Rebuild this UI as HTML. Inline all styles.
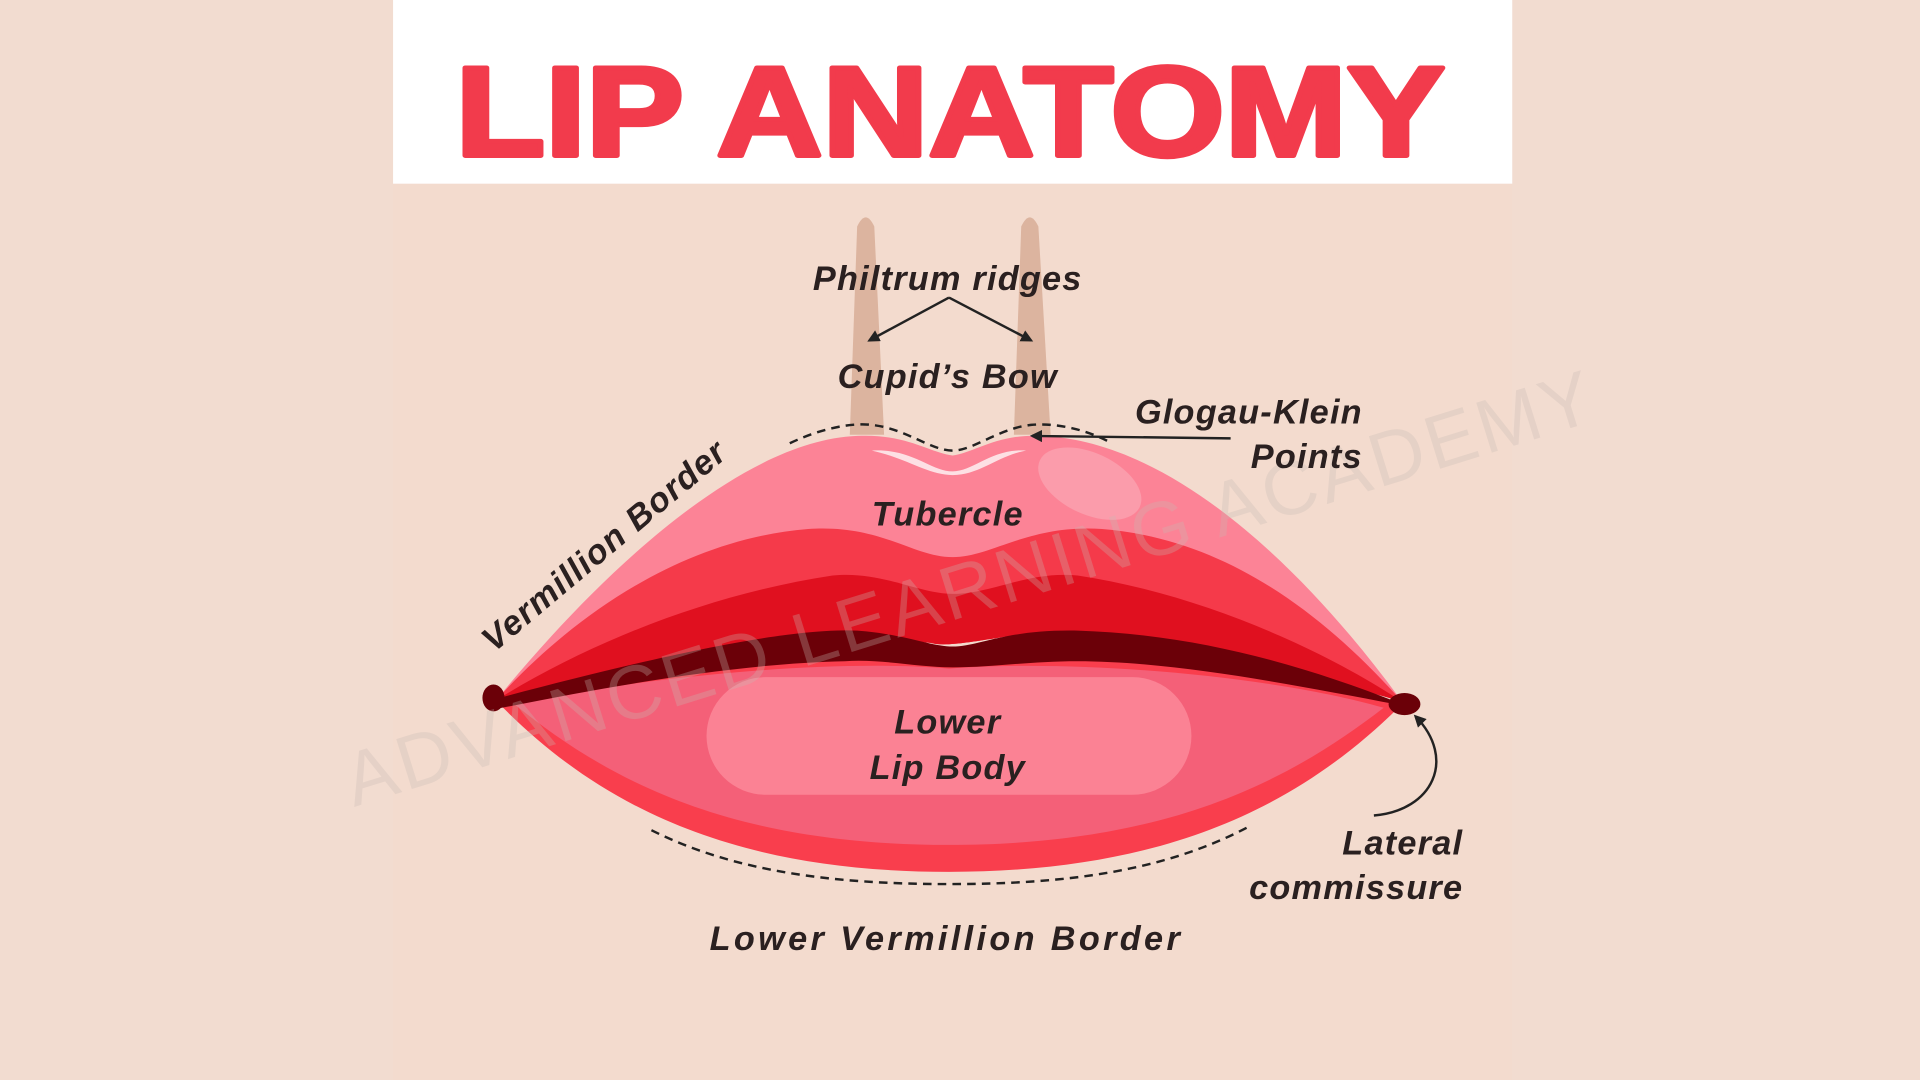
<!DOCTYPE html>
<html><head><meta charset="utf-8"><style>
html,body{margin:0;padding:0;width:1920px;height:1080px;overflow:hidden;background:#f2dcd0}
svg{display:block}
</style></head><body>
<svg width="1920" height="1080" viewBox="0 0 1568 882" xmlns="http://www.w3.org/2000/svg">
<rect width="1568" height="882" fill="#f2dcd0"/>
<rect x="321" y="150" width="914" height="732" fill="#f3dbce"/>
<rect x="321" y="0" width="914" height="150" fill="#ffffff"/>
<text x="776" y="127" text-anchor="middle" font-family="Liberation Sans, sans-serif" font-weight="bold" font-size="104" fill="#f23b4c" stroke="#f23b4c" stroke-width="4" stroke-linejoin="round" textLength="808" lengthAdjust="spacingAndGlyphs">LIP ANATOMY</text>

<!-- philtrum ridges -->
<path d="M700,185 Q707,170 714,185 L722,355 L694,355 Z" fill="#dcb49f"/>
<path d="M834,185 Q841,170 848,185 L858,355 L828,355 Z" fill="#dcb49f"/>

<!-- lower lip -->
<path d="M405,572 C520,545 680,530 775,540 C880,530 1050,545 1145,575 C1060,660 950,712 775,712 C600,712 490,660 405,572 Z" fill="#f93e4d"/>
<path d="M420,575 C530,552 680,538 775,546 C880,538 1040,552 1130,578 C1050,640 950,690 775,690 C600,690 500,640 420,575 Z" fill="#f46078"/>
<rect x="577" y="553" width="396" height="96" rx="48" fill="#fb8294"/>

<!-- upper lip -->
<path d="M405,572 C480,480 600,360 700,356 C740,354 760,370 778,372 C795,370 815,354 850,356 C960,360 1070,470 1145,573 C1050,545 900,515 820,520 C790,525 770,528 760,525 C680,515 520,540 405,572 Z" fill="#fc8396"/>
<path d="M405,572 C470,500 560,440 660,432 C720,428 745,455 778,455 C810,455 840,428 900,432 C1000,440 1080,500 1145,573 C1050,545 900,515 820,520 C790,525 770,528 760,525 C680,515 520,540 405,572 Z" fill="#f53a4a"/>
<path d="M405,572 C480,525 580,485 680,470 C720,466 750,485 778,485 C810,485 840,466 880,470 C980,485 1080,530 1145,573 C1050,545 900,515 820,520 C790,525 770,528 760,525 C680,515 520,540 405,572 Z" fill="#e0101f"/>
<path d="M400,572 C520,540 640,512 700,515 C740,518 760,528 778,528 C800,528 820,514 880,515 C980,518 1070,545 1150,577 C1060,560 960,540 880,540 C840,540 810,545 778,545 C750,545 720,538 690,540 C600,542 500,560 400,580 Z" fill="#6b0008"/>
<path d="M712,368 C745,366 760,385 778,385 C795,385 810,366 838,368 C815,372 800,388 778,388 C758,388 740,374 712,368 Z" fill="#fde0e4"/>
<ellipse cx="890" cy="395" rx="45" ry="25" transform="rotate(25 890 395)" fill="#fb9cab"/>
<ellipse cx="403" cy="570" rx="9" ry="11" fill="#6b0008"/>
<ellipse cx="1147" cy="575" rx="13" ry="9" fill="#6b0008"/>

<!-- watermark -->
<text x="800" y="500" text-anchor="middle" transform="rotate(-17.3 800 500)" font-family="Liberation Sans, sans-serif" font-size="62" fill="#c8b8b2" fill-opacity="0.3" letter-spacing="6" textLength="1070">ADVANCED LEARNING ACADEMY</text>

<!-- dashed lines -->
<path d="M645,362 C670,350 695,345 712,347 C740,350 760,368 778,368 C795,368 815,350 842,347 C865,345 890,352 908,362" fill="none" stroke="#222" stroke-width="2" stroke-dasharray="7,5"/>
<path d="M532,678 C600,712 680,722 775,722 C870,722 950,712 1020,675" fill="none" stroke="#222" stroke-width="2" stroke-dasharray="7,5"/>

<!-- arrows -->
<defs><marker id="ah" markerWidth="10" markerHeight="10" refX="8" refY="5" orient="auto" markerUnits="userSpaceOnUse"><path d="M0,0 L10,5 L0,10 Z" fill="#222"/></marker></defs>
<path d="M775,243 L710,278" stroke="#222" stroke-width="2" fill="none" marker-end="url(#ah)"/>
<path d="M775,243 L842,278" stroke="#222" stroke-width="2" fill="none" marker-end="url(#ah)"/>
<path d="M1005,358 L843,356" stroke="#222" stroke-width="2" fill="none" marker-end="url(#ah)"/>
<path d="M1122,666 C1170,662 1190,620 1156,585" stroke="#222" stroke-width="2" fill="none" marker-end="url(#ah)"/>

<!-- labels -->
<g font-family="Liberation Sans, sans-serif" font-weight="bold" font-style="italic" font-size="28" fill="#2a2020" letter-spacing="1">
<text x="774" y="237" text-anchor="middle">Philtrum ridges</text>
<text x="774" y="317" text-anchor="middle">Cupid’s Bow</text>
<text x="1113" y="346" text-anchor="end">Glogau-Klein</text>
<text x="1113" y="382" text-anchor="end">Points</text>
<text x="774" y="429" text-anchor="middle">Tubercle</text>
<text x="774" y="599" text-anchor="middle">Lower</text>
<text x="774" y="636" text-anchor="middle">Lip Body</text>
<text x="1195" y="698" text-anchor="end">Lateral</text>
<text x="1195" y="734" text-anchor="end">commissure</text>
<text x="772" y="776" text-anchor="middle" textLength="385">Lower Vermillion Border</text>
<text x="493" y="455" text-anchor="middle" transform="rotate(-40 493 445)">Vermillion Border</text>
</g>
</svg>
</body></html>
